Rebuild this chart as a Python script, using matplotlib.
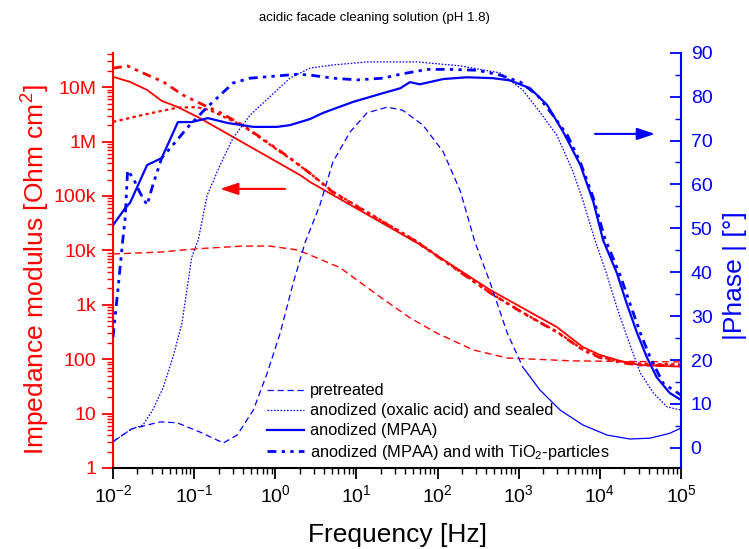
import numpy as np
import matplotlib
matplotlib.use('Agg')
import matplotlib.pyplot as plt
from matplotlib.ticker import LogLocator, MultipleLocator, NullFormatter
from matplotlib.lines import Line2D

plt.rcParams['font.family'] = ['Liberation Sans', 'DejaVu Sans']
plt.rcParams['mathtext.fontset'] = 'custom'
plt.rcParams['mathtext.rm'] = 'Liberation Sans'
plt.rcParams['mathtext.it'] = 'Liberation Sans:italic'
plt.rcParams['mathtext.bf'] = 'Liberation Sans:bold'

RED = '#ff0000'
BLUE = '#0000ff'

title = "acidic facade cleaning solution (pH 1.8)"
series_labels = ["pretreated", "anodized (oxalic acid) and sealed",
                 "anodized (MPAA)", "anodized (MPAA) and with TiO$_2$-particles"]

# ---------- impedance modulus (left axis), log10(frequency / Hz) ----------
lgf_z_pre = [-2.0, -1.42, -0.97, -0.40, -0.07, 0.27, 0.43, 0.80, 1.29, 1.66, 1.99, 2.44, 2.86, 3.67, 5.0]
z_pre = [8.6e3, 9.3e3, 1.07e4, 1.2e4, 1.2e4, 1.02e4, 8.2e3, 4.8e3, 1.4e3, 575, 302, 148, 105, 93, 89]

lgf_z_ox = [-2.0, -1.63, -1.21, -0.97, -0.81, -0.60, -0.40, -0.10, 0.18, 0.43, 0.71, 1.75, 2.65, 3.05, 3.47, 3.79, 4.0, 4.29, 4.5, 5.0]
z_ox = [2.3e6, 3.1e6, 4.2e6, 4.3e6, 3.8e6, 2.7e6, 1.95e6, 9.5e5, 4.9e5, 2.6e5, 1.2e5, 1.45e4, 1.65e3, 720, 320, 150, 110, 89, 83, 80]

lgf_z_mpaa = [-2.0, -1.79, -1.58, -1.40, -1.20, -0.93, 0.31, 0.43, 1.75, 2.65, 3.05, 3.47, 3.79, 4.0, 4.29, 4.5, 5.0]
z_mpaa = [1.55e7, 1.25e7, 8.9e6, 5.6e6, 4.3e6, 2.7e6, 2.4e5, 1.8e5, 1.37e4, 1.87e3, 870, 390, 167, 120, 89, 78, 73]

lgf_z_tio2 = [-2.0, -1.82, -1.63, -1.38, -1.14, -0.97, -0.68, -0.40, -0.10, 0.18, 0.43, 0.71, 1.75, 2.65, 3.05, 3.47, 3.79, 4.0, 4.29, 4.5, 5.0]
z_tio2 = [2.24e7, 2.45e7, 1.82e7, 1.25e7, 7.2e6, 5.4e6, 3.4e6, 2.0e6, 9.8e5, 5.0e5, 2.6e5, 1.17e5, 1.4e4, 1.65e3, 710, 316, 148, 107, 85, 78, 76]

# ---------- |phase| (right axis) ----------
lgf_p_pre = [-2.0, -1.77, -1.42, -1.21, -0.93, -0.64, -0.47, -0.27, -0.10, 0.06, 0.22, 0.37, 0.55, 0.71, 0.92, 1.13, 1.38, 1.57, 1.82, 2.07, 2.28, 2.46, 2.65, 2.86, 3.05, 3.26, 3.51, 3.79, 4.09, 4.37, 4.62, 4.86, 5.0]
p_pre = [1.4, 4.3, 5.9, 5.7, 3.6, 1.1, 2.9, 8.6, 17.0, 26.1, 37.5, 46.9, 55.3, 65.1, 71.9, 76.3, 77.6, 76.9, 73.5, 67.4, 58.5, 46.9, 37.5, 26.1, 18.4, 13.2, 8.6, 5.2, 2.9, 2.0, 2.2, 3.3, 4.5]

lgf_p_ox = [-2.0, -1.77, -1.63, -1.51, -1.38, -1.26, -1.15, -1.09, -1.03, -0.95, -0.84, -0.68, -0.52, -0.31, -0.07, 0.18, 0.43, 0.71, 1.13, 1.75, 2.28, 2.77, 3.05, 3.26, 3.47, 3.67, 3.79, 3.94, 4.08, 4.21, 4.35, 4.50, 4.66, 4.83, 5.0]
p_ox = [1.4, 4.3, 5.2, 8.6, 13.8, 20.7, 28.4, 35.9, 43.4, 47.3, 57.5, 64.4, 70.6, 75.8, 79.9, 84.2, 86.5, 87.2, 87.9, 87.9, 87.0, 85.4, 81.5, 76.5, 71.2, 62.9, 56.4, 47.3, 39.8, 32.0, 24.5, 17.0, 12.5, 9.3, 8.6]

lgf_p_mpaa = [-2.0, -1.85, -1.79, -1.58, -1.40, -1.20, -1.03, -0.83, -0.59, -0.27, 0.02, 0.18, 0.43, 0.59, 0.96, 1.33, 1.54, 1.66, 1.78, 2.07, 2.36, 2.68, 2.89, 3.14, 3.35, 3.55, 3.76, 3.92, 4.04, 4.21, 4.33, 4.46, 4.58, 4.70, 4.86, 5.0]
p_mpaa = [50.7, 54.6, 55.8, 64.4, 66.0, 74.2, 74.2, 75.1, 74.0, 73.1, 73.1, 73.5, 74.9, 76.3, 78.8, 80.8, 81.9, 83.3, 82.8, 84.0, 84.4, 84.2, 83.7, 81.9, 78.1, 71.9, 64.4, 56.0, 47.3, 39.8, 32.9, 26.1, 20.6, 16.1, 12.5, 10.9]

lgf_p_tio2 = [-2.0, -1.94, -1.88, -1.85, -1.82, -1.75, -1.67, -1.58, -1.51, -1.40, -1.21, -1.08, -0.84, -0.68, -0.52, -0.31, 0.02, 0.27, 0.43, 0.71, 1.01, 1.33, 1.54, 1.87, 2.15, 2.49, 2.77, 3.02, 3.23, 3.42, 3.60, 3.76, 3.92, 4.06, 4.25, 4.37, 4.50, 4.62, 4.78, 5.0]
p_tio2 = [25.2, 35.9, 47.3, 52.3, 63.2, 61.4, 58.2, 55.3, 59.8, 66.0, 70.1, 73.0, 77.6, 80.3, 83.1, 84.2, 84.7, 85.1, 84.9, 84.2, 83.8, 84.2, 85.1, 86.2, 86.2, 86.0, 84.9, 83.3, 80.3, 75.8, 71.2, 65.0, 56.9, 47.8, 39.3, 32.9, 26.1, 20.6, 14.7, 12.0]

z_ticks = [1, 10, 100, 1e3, 1e4, 1e5, 1e6, 1e7]
z_tick_labels = ["1", "10", "100", "1k", "10k", "100k", "1M", "10M"]
phase_ticks = [0, 10, 20, 30, 40, 50, 60, 70, 80, 90]


def hz(lgf):
    return 10.0 ** np.asarray(lgf)


DASH = (0, (5, 3))
DOT = (0, (1.3, 1.3))
DASHDOT = (0, (3.2, 1.9, 1.2, 1.9, 1.2, 1.9))

fig = plt.figure(figsize=(7.49, 5.49), dpi=100)
ax = fig.add_axes([113 / 749, 81 / 549, 568 / 749, 415.3 / 549])

ax.plot(hz(lgf_z_pre), z_pre, color=RED, lw=1.0, ls=DASH)
ax.plot(hz(lgf_z_ox), z_ox, color=RED, lw=1.6, ls=(0, (1.5, 1.5)))
ax.plot(hz(lgf_z_mpaa), z_mpaa, color=RED, lw=1.3, ls='-')
ax.plot(hz(lgf_z_tio2), z_tio2, color=RED, lw=2.0, ls=DASHDOT)

ax.set_xscale('log')
ax.set_yscale('log')
ax.set_xlim(1e-2, 1e5)
ax.set_ylim(1, 4.3e7)

ax2 = ax.twinx()
f_pre = hz(lgf_p_pre)
p_pre_arr = np.asarray(p_pre)
lo = f_pre <= 1.2e3
hi = f_pre >= 1.1e3
ax2.plot(f_pre[lo], p_pre_arr[lo], color=BLUE, lw=0.9, ls=DASH)
ax2.plot(f_pre[hi], p_pre_arr[hi], color=BLUE, lw=0.9, ls='-')
ax2.plot(hz(lgf_p_ox), p_ox, color=BLUE, lw=0.9, ls=DOT)
ax2.plot(hz(lgf_p_mpaa), p_mpaa, color=BLUE, lw=1.6, ls='-')
ax2.plot(hz(lgf_p_tio2), p_tio2, color=BLUE, lw=2.0, ls=DASHDOT)
ax2.set_ylim(-4.6, 90)
ax2.set_xlim(1e-2, 1e5)

# spines
for a in (ax, ax2):
    a.spines['top'].set_visible(False)
ax.spines['right'].set_visible(False)
ax2.spines['left'].set_visible(False)
ax2.spines['bottom'].set_visible(False)
ax.spines['left'].set_color(RED)
ax.spines['left'].set_linewidth(1.5)
ax.spines['bottom'].set_color('black')
ax.spines['bottom'].set_linewidth(1.5)
ax2.spines['right'].set_color(BLUE)
ax2.spines['right'].set_linewidth(1.5)

# x ticks
ax.xaxis.set_major_locator(LogLocator(base=10, numticks=20))
ax.xaxis.set_minor_locator(LogLocator(base=10, subs=np.arange(2, 10), numticks=20))
ax.xaxis.set_minor_formatter(NullFormatter())
ax.tick_params(axis='x', which='both', direction='out', colors='black', labelsize=14, pad=4)
ax.tick_params(axis='x', which='major', length=8, width=1.3)
ax.tick_params(axis='x', which='minor', length=4, width=1.0)

# left y ticks
ax.set_yticks(z_ticks)
ax.set_yticklabels(z_tick_labels)
ax.yaxis.set_minor_locator(LogLocator(base=10, subs=np.arange(2, 10), numticks=20))
ax.yaxis.set_minor_formatter(NullFormatter())
ax.tick_params(axis='y', which='both', direction='out', colors=RED, labelsize=14, pad=4)
ax.tick_params(axis='y', which='major', length=8, width=1.3)
ax.tick_params(axis='y', which='minor', length=4, width=1.0)

# right y ticks
ax2.set_yticks(phase_ticks)
ax2.yaxis.set_minor_locator(MultipleLocator(5))
ax2.tick_params(axis='y', which='both', direction='in', colors=BLUE, labelsize=14, pad=7)
ax2.tick_params(axis='y', which='major', length=8, width=1.3)
ax2.tick_params(axis='y', which='minor', length=4, width=1.0)

# labels
fig.text(0.5, 1 - 18 / 549, title, ha='center', va='center', fontsize=9.5)
fig.text(397 / 749, 1 - 535 / 549, "Frequency [Hz]", ha='center', va='center', fontsize=19)
fig.text(36 / 749, 1 - 270 / 549, "Impedance modulus [Ohm cm$^2$]", ha='center', va='center',
         rotation=90, fontsize=19, color=RED)
fig.text(735 / 749, 1 - 276 / 549, "|Phase | [°]", ha='center', va='center',
         rotation=90, fontsize=19, color=BLUE)

# arrows
ax.annotate('', xy=(10 ** -0.68, 1.35e5), xytext=(10 ** 0.12, 1.35e5),
            arrowprops=dict(arrowstyle='-|>,head_length=0.9,head_width=0.3', color=RED,
                            lw=1.5, mutation_scale=12, shrinkA=0, shrinkB=0))
ax2.annotate('', xy=(10 ** 4.68, 71.5), xytext=(10 ** 3.94, 71.5),
             arrowprops=dict(arrowstyle='-|>,head_length=0.9,head_width=0.3', color=BLUE,
                             lw=1.5, mutation_scale=12, shrinkA=0, shrinkB=0))

# legend
handles = [Line2D([], [], color=BLUE, lw=0.9, ls=DASH),
           Line2D([], [], color=BLUE, lw=0.9, ls=DOT),
           Line2D([], [], color=BLUE, lw=1.6, ls='-'),
           Line2D([], [], color=BLUE, lw=2.0, ls=DASHDOT)]
leg = ax2.legend(handles, series_labels, loc='lower left', bbox_to_anchor=(0.271, 0.014),
                 frameon=False, fontsize=11.8, handlelength=2.25, handletextpad=0.35,
                 labelspacing=0.3, borderpad=0, borderaxespad=0)

fig.savefig('out.png', dpi=100)
